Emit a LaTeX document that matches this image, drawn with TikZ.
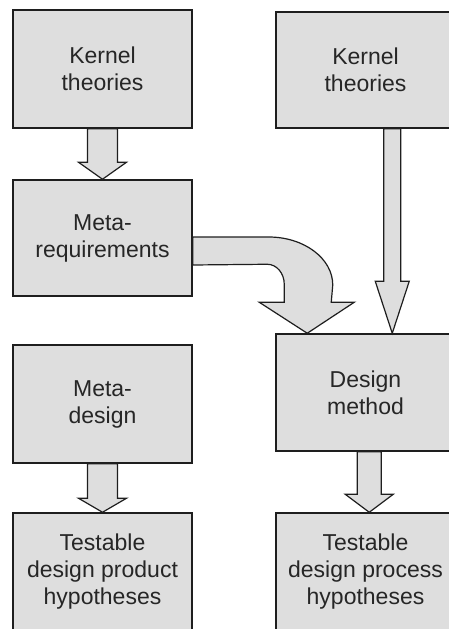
\documentclass[tikz,border=0pt]{standalone}
\usepackage{fontspec}
\setmainfont{Liberation Sans}
\usetikzlibrary{calc}
\definecolor{boxfill}{HTML}{DEDEDE}
\definecolor{boxline}{HTML}{1E1E1E}
\definecolor{txt}{HTML}{262626}
\tikzset{
  stepbox/.style={draw=boxline, fill=boxfill, line width=1.5pt, rectangle,
    minimum width=179pt, inner sep=0pt, align=center, text=txt,
    font=\fontsize{23}{27}\selectfont},
  blockarrow/.style={draw=boxline, fill=boxfill, line width=1.2pt, line join=miter}
}
\newcommand\blkdown[5]{% start, end, half shaft, half head, head length
  \draw[blockarrow] ($#1+(-#3,0)$) -- ($#2+(-#3,#5)$) -- ($#2+(-#4,#5)$) -- #2
    -- ($#2+(#4,#5)$) -- ($#2+(#3,#5)$) -- ($#1+(#3,0)$) -- cycle;}
\begin{document}
\begin{tikzpicture}[x=1pt,y=1pt]
\useasboundingbox (0,0) rectangle (449,-629);
\node[stepbox, minimum height=118pt] (k1) at (102.5,-69) {Kernel\\theories};
\node[stepbox, minimum height=116pt] (k2) at (365.5,-70) {Kernel\\theories};
\node[stepbox, minimum height=116pt] (mr) at (102.5,-238) {Meta-\\requirements};
\node[stepbox, minimum height=118pt] (md) at (102.5,-404) {Meta-\\design};
\node[stepbox, minimum height=118pt] (tl) at (102.5,-572) {Testable\\design product\\hypotheses};
\node[stepbox, minimum height=117pt] (dm) at (365.5,-392.5) {Design\\method};
\node[stepbox, minimum height=118pt] (tr) at (365.5,-572) {Testable\\design process\\hypotheses};
% straight block arrows
\blkdown{(k1.south)}{(mr.north)}{15}{24}{17}
\blkdown{(md.south)}{(tl.north)}{15}{24}{14}
\blkdown{($(k2.south west)+(117,0)$)}{($(dm.north west)+(117,0)$)}{8.5}{17}{52}
\blkdown{($(dm.south west)+(94,0)$)}{($(tr.north west)+(94,0)$)}{12}{24}{18}
% curved block arrow
\coordinate (ctop) at ($(mr.east)+(0,1)$);
\coordinate (cbot) at ($(mr.east)+(0,-27)$);
\coordinate (ctip) at ($(dm.north west)+(32,0)$);
\draw[blockarrow] (ctop) -- ($(ctop)+(76,0)$)
  arc[start angle=90, end angle=0, x radius=64, y radius=48]
  -- ($(ctip)+(24,31)$) -- ($(ctip)+(47,31)$) -- (ctip) -- ($(ctip)+(-48,31)$)
  -- ($(ctip)+(-23,31)$) -- ($(ctip)+(-23,49)$)
  arc[start angle=0, end angle=90, x radius=17, y radius=20]
  -- (cbot) -- cycle;
\end{tikzpicture}
\end{document}
